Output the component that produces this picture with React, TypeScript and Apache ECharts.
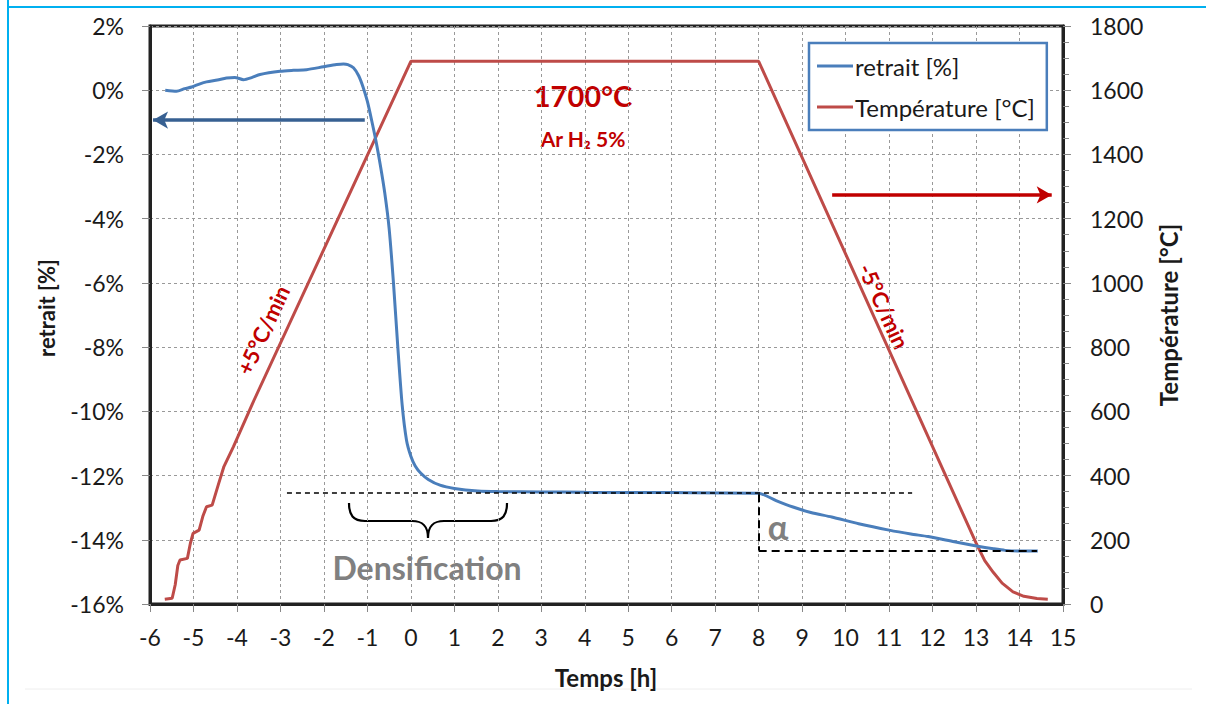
import React, { useEffect, useRef } from "react";
import * as echarts from "echarts";

// ---- data ----
const retraitT = [-5.65, -5.39, -5.2, -5.04, -4.85, -4.7, -4.45, -4.24, -4.05, -3.85, -3.65, -3.47, -3.01, -2.7, -2.4, -2.01, -1.71, -1.55, -1.45, -1.32, -1.2, -1.1, -1.0, -0.9, -0.8, -0.7, -0.6, -0.5, -0.4, -0.3, -0.2, -0.1, 0.0, 0.1, 0.23, 0.4, 0.67, 1.0, 1.54, 2.0, 3.0, 4.0, 6.0, 8.0, 8.4, 8.79, 9.2, 9.68, 10.3, 11.0, 11.5, 11.9, 12.5, 13.04, 13.4, 13.67, 14.0, 14.42];
const retraitV = [0.0, -0.03, 0.05, 0.1, 0.2, 0.26, 0.32, 0.38, 0.4, 0.33, 0.4, 0.49, 0.59, 0.62, 0.64, 0.73, 0.8, 0.82, 0.8, 0.7, 0.45, 0.1, -0.35, -0.95, -1.6, -2.35, -3.2, -4.3, -6.0, -8.0, -9.8, -10.9, -11.4, -11.7, -11.93, -12.12, -12.3, -12.4, -12.48, -12.5, -12.51, -12.52, -12.53, -12.55, -12.78, -12.98, -13.15, -13.29, -13.5, -13.7, -13.82, -13.9, -14.06, -14.2, -14.28, -14.33, -14.35, -14.35];

const tempT = [-5.66, -5.49, -5.42, -5.36, -5.31, -5.14, -5.07, -5.01, -4.87, -4.78, -4.7, -4.57, -4.43, -4.3, -4.08, -3.64, 0.0, 8.0, 13.0, 13.2, 13.4, 13.6, 13.85, 14.1, 14.4, 14.65];
const tempV = [15, 18, 60, 120, 137, 142, 190, 220, 230, 275, 303, 308, 371, 428, 490, 625, 1690, 1690, 190, 135, 98, 65, 38, 24, 17, 15];

const xMin = -6, xMax = 15, xStep = 1;
const yLeftMin = -16, yLeftMax = 2, yLeftStep = 2;
const yRightMin = 0, yRightMax = 1800, yRightStep = 200;

const seriesNames = ["retrait [%]", "Température [°C]"];

// annotation coordinates (data space)
const blueArrow = [[-1.06, -0.93], [-5.93, -0.93]];
const redArrow = [[9.69, 1274], [14.74, 1274]];
const plateauDash = [[-2.85, -12.52], [11.53, -12.52]];
const alphaVert = [[8.0, -12.58], [8.0, -14.33]];
const alphaHoriz = [[8.0, -14.35], [14.4, -14.35]];

const FONT = "Lato, 'Open Sans', sans-serif";
const RED_TXT = "#C00000";

const bracePath = "M0,0 C0,12 4,18 16,18 L63,18 C73,18 79,22 79,35 C79,22 85,18 95,18 L142,18 C154,18 158,12 158,0";

export default function App() {
  const ref = useRef<HTMLDivElement>(null);
  useEffect(() => {
    if (!ref.current) return;
    try {
      echarts.graphic.registerShape("brace", echarts.graphic.extendPath(bracePath, {}));
    } catch (e) {}
    const chart = echarts.init(ref.current, null, { renderer: "svg" });
    const blueData = retraitT.map((t, i) => [t, retraitV[i]]);
    const redData = tempT.map((t, i) => [t, tempV[i]]);
    const thinDash = { color: "#000", width: 1.5, type: [5, 4] as any };
    const boldDash = { color: "#000", width: 2, type: [8, 5] as any };
    const txt = (x: number, y: number, text: string, font: string, fill: string, rotation = 0) => ({
      type: "text",
      x,
      y,
      rotation,
      silent: true,
      style: { text, font, fill, textAlign: "center", textVerticalAlign: "middle", align: "center", verticalAlign: "middle" },
    });
    const option: any = {
      animation: false,
      backgroundColor: "#fff",
      textStyle: { fontFamily: FONT },
      grid: {
        left: 150, right: 143, top: 26, bottom: 100,
        containLabel: false, outerBoundsMode: "none",
        show: true, borderColor: "#222", borderWidth: 3, backgroundColor: "transparent",
      },
      legend: {
        data: seriesNames,
        orient: "vertical",
        left: 809,
        top: 43,
        padding: [11, 12, 11, 8],
        itemGap: 17,
        itemWidth: 36,
        itemHeight: 3,
        icon: "rect",
        borderColor: "#4A7EBB",
        borderWidth: 2.5,
        backgroundColor: "#fff",
        textStyle: { fontSize: 24, color: "#1a1a1a", fontFamily: FONT, padding: [0, 0, 0, -3] },
      },
      xAxis: {
        type: "value", min: xMin, max: xMax, interval: xStep,
        axisLine: { show: true, onZero: false, lineStyle: { color: "#222", width: 3 } },
        axisTick: { show: true, length: 8, lineStyle: { color: "#888", width: 1 } },
        axisLabel: { fontSize: 23, color: "#1a1a1a", margin: 21, fontFamily: FONT },
        splitLine: { show: true, lineStyle: { color: "#999", width: 1, type: [3, 3] } },
      },
      yAxis: [
        {
          type: "value", min: yLeftMin, max: yLeftMax, interval: yLeftStep, position: "left",
          axisLine: { show: true, onZero: false, lineStyle: { color: "#222", width: 3 } },
          axisTick: { show: true, length: 8, lineStyle: { color: "#888", width: 1 } },
          axisLabel: { fontSize: 23, color: "#1a1a1a", margin: 26, fontFamily: FONT, formatter: (v: number) => v + "%" },
          splitLine: { show: true, lineStyle: { color: "#999", width: 1, type: [3, 3] } },
        },
        {
          type: "value", min: yRightMin, max: yRightMax, interval: yRightStep, position: "right",
          axisLine: { show: true, onZero: false, lineStyle: { color: "#222", width: 3 } },
          axisTick: { show: true, length: 8, lineStyle: { color: "#888", width: 1 } },
          minorTick: { show: true, splitNumber: 4, length: 6, lineStyle: { color: "#888", width: 1 } },
          axisLabel: { fontSize: 23, color: "#1a1a1a", margin: 27, fontFamily: FONT, formatter: (v: number) => String(v) },
          splitLine: { show: false },
        },
      ],
      series: [
        {
          name: seriesNames[0], type: "line", xAxisIndex: 0, yAxisIndex: 0,
          data: blueData, symbol: "none", showSymbol: false, smooth: 0.25,
          lineStyle: { color: "#4A7EBB", width: 3 }, itemStyle: { color: "#4A7EBB" }, z: 3,
        },
        {
          name: seriesNames[1], type: "line", xAxisIndex: 0, yAxisIndex: 1,
          data: redData, symbol: "none", showSymbol: false, smooth: false,
          lineStyle: { color: "#BE4B48", width: 3 }, itemStyle: { color: "#BE4B48" }, z: 2,
        },
        {
          name: "annotThin", type: "line", xAxisIndex: 0, yAxisIndex: 0, data: [], silent: true,
          markLine: {
            silent: true, animation: false, symbol: ["none", "none"], label: { show: false },
            lineStyle: thinDash,
            data: [[{ coord: plateauDash[0] }, { coord: plateauDash[1] }]],
          },
        },
        {
          name: "annotBold", type: "line", xAxisIndex: 0, yAxisIndex: 0, data: [], silent: true,
          markLine: {
            silent: true, animation: false, symbol: ["none", "none"], label: { show: false },
            lineStyle: boldDash,
            data: [
              [{ coord: alphaVert[0] }, { coord: alphaVert[1] }],
              [{ coord: alphaHoriz[0] }, { coord: alphaHoriz[1] }],
            ],
          },
        },
        {
          name: "arrowL", type: "line", xAxisIndex: 0, yAxisIndex: 0, data: [], silent: true,
          markLine: {
            silent: true, animation: false, symbol: ["none", "arrow"], symbolSize: [13, 15], label: { show: false },
            lineStyle: { color: "#376092", width: 3.5, type: "solid" },
            data: [[{ coord: blueArrow[0] }, { coord: blueArrow[1] }]],
          },
        },
        {
          name: "arrowR", type: "line", xAxisIndex: 0, yAxisIndex: 1, data: [], silent: true,
          markLine: {
            silent: true, animation: false, symbol: ["none", "arrow"], symbolSize: [13, 15], label: { show: false },
            lineStyle: { color: "#C00000", width: 3.5, type: "solid" },
            data: [[{ coord: redArrow[0] }, { coord: redArrow[1] }]],
          },
        },
      ],
      graphic: [
        { type: "line", silent: true, shape: { x1: 8, y1: 0, x2: 8, y2: 704 }, style: { stroke: "#00B0F0", lineWidth: 2 } },
        { type: "line", silent: true, shape: { x1: 8, y1: 7, x2: 1206, y2: 7 }, style: { stroke: "#00B0F0", lineWidth: 2 } },
        { type: "line", silent: true, shape: { x1: 25, y1: 689, x2: 1192, y2: 689 }, style: { stroke: "#eeeeee", lineWidth: 1 } },
        txt(583, 95, "1700°C", `bold 29px ${FONT}`, RED_TXT),
        txt(583, 138, "Ar H₂ 5%", `bold 21px ${FONT}`, RED_TXT),
        txt(263, 330, "+5°C/min", `bold 22px ${FONT}`, RED_TXT, (65 * Math.PI) / 180),
        txt(884, 306, "-5°C/min", `bold 22px ${FONT}`, RED_TXT, (-65.5 * Math.PI) / 180),
        txt(427, 567, "Densification", `bold 32px ${FONT}`, "#808080"),
        txt(778, 526, "α", `bold 34px ${FONT}`, "#808080"),
        txt(606, 677, "Temps [h]", `bold 24px ${FONT}`, "#1a1a1a"),
        txt(46, 308, "retrait [%]", `bold 22px ${FONT}`, "#1a1a1a", Math.PI / 2),
        txt(1168, 315, "Température [°C]", `bold 24px ${FONT}`, "#1a1a1a", Math.PI / 2),
        {
          type: "brace", x: 349, y: 503, silent: true,
          style: { stroke: "#000", fill: "none", lineWidth: 2.2 },
        },
      ],
    };
    chart.setOption(option);
    return () => chart.dispose();
  }, []);
  return (
    <div
      ref={ref}
      style={{ position: "fixed", left: 0, top: 0, width: 1206, height: 704, background: "#fff" }}
    />
  );
}
